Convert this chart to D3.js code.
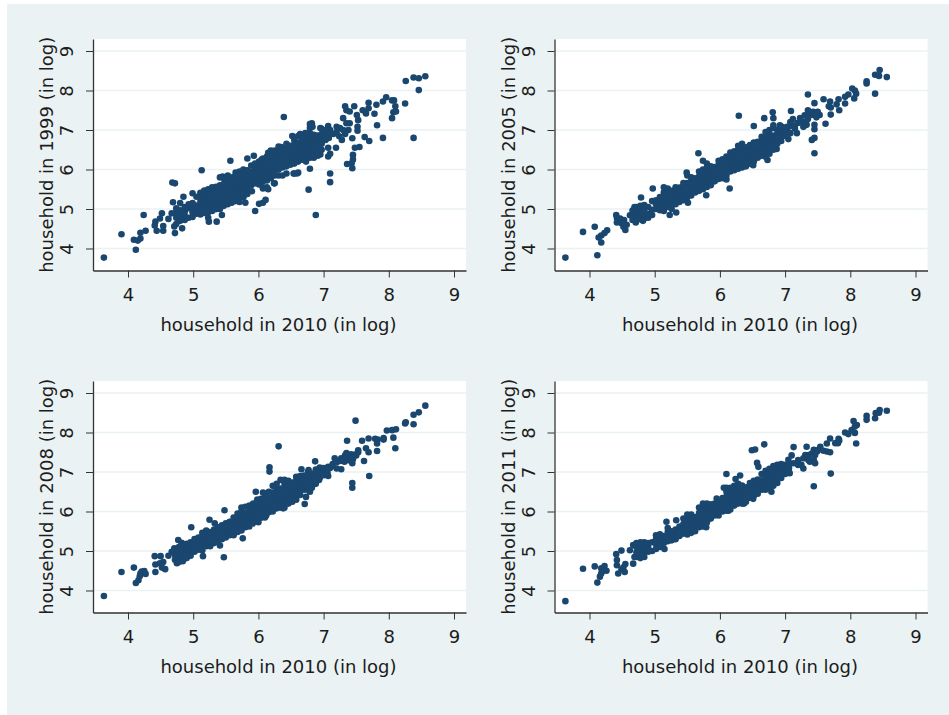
<!DOCTYPE html>
<html>
<head>
<meta charset="utf-8">
<script src="https://cdn.jsdelivr.net/npm/d3@7"></script>
<style>
	html, body { margin: 0; padding: 0; background: #fff; }
	svg { display: block; }
	text { font-family: "DejaVu Sans", sans-serif; fill: #1c1c1c; }
</style>
</head>
<body>
<div id="chart"></div>
<script>
// values: [x, [y, y, ...]] for the dense band, [x, y] for stray points
var xTicks = [4, 5, 6, 7, 8, 9];
var yTicks = [4, 5, 6, 7, 8, 9];
var xLabel = "household in 2010 (in log)";
var years = [1999, 2005, 2008, 2011];

var band1999 = [
	[4.74,[4.62,4.78,4.92,5.02]],[4.80,[4.70,4.84,4.97]],[4.87,[4.72,4.82,4.93,5.05]],
	[4.93,[4.78,5.02,5.12]],[4.99,[4.80,4.92,5.03,5.15,5.40]],[5.05,[4.88,4.98,5.09,5.31]],
	[5.11,[4.86,4.96,5.07,5.18,5.29,5.41]],[5.17,[4.90,5.02,5.13,5.24,5.36,5.47]],[5.23,[4.78,4.92,5.05,5.16,5.27,5.38,5.5]],
	[5.29,[4.95,5.08,5.19,5.3,5.41,5.55]],[5.35,[5.0,5.12,5.23,5.34,5.45,5.56]],[5.41,[5.0,5.12,5.24,5.36,5.47,5.6,5.8]],
	[5.47,[5.08,5.18,5.29,5.41,5.52,5.64,5.78]],[5.53,[5.12,5.24,5.35,5.46,5.58,5.7,5.85]],[5.59,[5.16,5.28,5.39,5.5,5.62,5.74]],
	[5.65,[5.2,5.3,5.42,5.54,5.66,5.78,5.92]],[5.71,[5.18,5.32,5.44,5.56,5.68,5.8,5.95]],[5.77,[5.3,5.42,5.55,5.67,5.79,5.9,6.0]],
	[5.83,[5.38,5.5,5.62,5.74,5.86,5.98]],[5.89,[5.6,5.72,5.83,5.95,6.1]],[5.95,[5.65,5.75,5.87,5.98,6.08,6.15]],
	[6.01,[5.62,5.74,5.86,5.97,6.09,6.2]],[6.07,[5.55,5.7,5.82,5.94,6.06,6.18,6.28]],[6.13,[5.55,5.72,5.85,5.97,6.09,6.21,6.33]],
	[6.19,[5.78,5.9,6.02,6.14,6.26,6.38,6.48]],[6.25,[5.65,5.85,5.97,6.09,6.21,6.33,6.45]],[6.31,[5.85,6.0,6.12,6.24,6.36,6.48,6.58]],
	[6.37,[5.85,6.05,6.17,6.29,6.41,6.53]],[6.43,[5.9,6.08,6.2,6.32,6.44,6.56,6.65]],[6.49,[6.12,6.24,6.36,6.48,6.6]],
	[6.55,[5.9,6.15,6.27,6.39,6.51,6.63,6.75]],[6.61,[5.92,6.2,6.32,6.44,6.56,6.68,6.85]],[6.67,[6.25,6.37,6.49,6.61,6.73,6.88]],
	[6.73,[6.2,6.32,6.44,6.56,6.68,6.8,6.9]],[6.79,[6.02,6.3,6.42,6.54,6.66,6.78,6.92,7.05,7.15]],[6.85,[6.4,6.52,6.64,6.76,6.88]],
	[6.91,[6.35,6.5,6.62,6.74,6.86]],[6.97,[6.5,6.65,6.78,6.9,7.03]],[7.03,[6.75,6.85,6.97,7.0]]
];
var stray1999 = [
	[3.63,3.77],[3.90,4.36],[4.09,4.22],[4.12,3.97],[4.15,4.20],[4.19,4.25],[4.19,4.40],[4.27,4.45],[4.24,4.85],[4.42,4.68],
	[4.41,4.58],[4.44,4.45],[4.54,4.45],[4.54,4.57],[4.52,4.89],[4.49,4.76],[4.62,4.75],[4.68,5.67],[4.72,5.65],[4.69,5.17],
	[4.67,4.89],[4.72,4.39],[4.71,4.56],[4.83,4.51],[4.80,5.15],[4.85,5.31],[5.13,5.98],[5.95,4.95],[6.01,5.13],[6.07,5.16],
	[6.11,5.23],[5.80,5.16],[5.36,4.68],[5.44,4.85],[5.24,4.68],[5.57,6.22],[5.83,6.28],[5.93,6.35],[6.39,7.33],[6.77,5.49],
	[6.88,4.85],[7.10,5.68],[7.10,5.90],[7.07,6.33],[7.10,6.4],[7.07,6.55],[7.08,6.8],[7.07,7.1],[7.2,7.08],[7.19,6.55],
	[7.28,6.75],[7.24,6.84],[7.33,6.9],[7.38,7.0],[7.3,7.3],[7.35,7.17],[7.4,7.17],[7.33,7.6],[7.47,7.6],[7.35,7.5],
	[7.4,7.47],[7.51,7.38],[7.53,7.25],[7.52,7.08],[7.52,6.98],[7.44,6.79],[7.48,6.55],[7.55,6.57],[7.45,6.37],[7.45,6.25],
	[7.36,6.14],[7.44,6.03],[7.43,6.16],[7.6,7.5],[7.65,7.42],[7.69,7.55],[7.69,7.69],[7.63,6.82],[7.7,6.72],[7.78,7.41],
	[7.82,7.12],[7.81,7.64],[7.91,6.8],[7.91,7.72],[7.96,7.83],[8.05,7.75],[8.08,7.75],[8.05,7.3],[8.07,7.45],[8.1,7.6],
	[8.11,7.47],[8.25,7.67],[8.26,8.24],[8.38,8.33],[8.46,8.31],[8.56,8.36],[8.46,8.01],[8.38,6.8],[6.95,7.05],[6.82,7.17],
	[6.83,7.08],[6.52,6.85],[6.64,6.9],[6.72,6.92],[6.54,5.9],[6.59,5.9],[6.24,5.65],[6.15,5.5],[6.07,5.52],
	[7.05,6.9],[7.1,6.95],[7.1,7.0],[7.15,6.9],[7.2,6.95],[7.25,7.05],[7.3,7.0],[6.95,6.38],[6.85,6.3],[6.75,6.3],
	[5.45,5.82],[5.6,5.8],[6.05,6.25],[6.15,6.42],[6.25,6.48],[6.35,6.57],[5.9,5.45],[5.35,5.0]
];

var band2005 = [
	[4.66,[4.72,4.84,4.96]],[4.72,[4.72,4.82,4.93,5.05]],[4.78,[4.74,4.85,4.96,5.08]],[4.84,[4.76,4.88,4.99,5.1]],
	[4.90,[4.78,4.88,5.05]],[4.96,[4.85,4.98,5.2]],[5.02,[5.0,5.12,5.22]],[5.08,[4.97,5.08,5.18,5.3]],
	[5.14,[4.95,5.06,5.18,5.3,5.42]],[5.20,[5.05,5.16,5.28,5.42,5.52]],[5.26,[5.0,5.12,5.24,5.36,5.46]],[5.32,[5.12,5.24,5.36,5.48,5.55]],
	[5.38,[5.18,5.3,5.42,5.54]],[5.44,[5.22,5.34,5.46,5.58,5.66]],[5.50,[5.3,5.42,5.54,5.66,5.85]],[5.56,[5.34,5.46,5.58,5.7,5.8]],
	[5.62,[5.42,5.54,5.66,5.78]],[5.68,[5.46,5.58,5.7,5.82,5.95]],[5.74,[5.5,5.62,5.74,5.86,6.0]],[5.80,[5.56,5.68,5.8,5.92,6.04,6.15]],
	[5.86,[5.6,5.72,5.84,5.96,6.08]],[5.92,[5.7,5.82,5.94,6.06]],[5.98,[5.76,5.88,6.0,6.12,6.22]],[6.04,[5.78,5.9,6.02,6.14,6.26]],
	[6.10,[5.75,5.85,5.97,6.09,6.21,6.33]],[6.16,[5.95,6.07,6.19,6.31,6.43]],[6.22,[5.98,6.1,6.22,6.34,6.46]],[6.28,[6.02,6.14,6.26,6.38,6.5,6.6]],
	[6.34,[6.05,6.17,6.29,6.41,6.55,6.65]],[6.40,[6.08,6.2,6.32,6.44,6.56]],[6.46,[6.15,6.27,6.39,6.51,6.62]],[6.52,[6.2,6.32,6.44,6.56,6.68]],
	[6.58,[6.3,6.42,6.54,6.7]],[6.64,[6.35,6.47,6.59,6.71,6.83]],[6.70,[6.32,6.44,6.56,6.68,6.8,6.95]],[6.76,[6.4,6.52,6.64,6.76,6.88,7.0]],
	[6.82,[6.5,6.62,6.74,6.86,7.05,7.12]],[6.88,[6.65,6.77,6.89,7.0]],[6.94,[6.72,6.84,6.96,7.08]],[7.00,[6.85,6.97,7.05]]
];
var stray2005 = [
	[3.63,3.77],[3.90,4.42],[4.08,4.55],[4.12,3.83],[4.14,4.28],[4.18,4.15],[4.18,4.33],[4.23,4.39],[4.27,4.46],[4.41,4.85],
	[4.42,4.77],[4.42,4.66],[4.47,4.76],[4.49,4.64],[4.52,4.55],[4.55,4.47],[4.57,4.6],[4.53,4.72],[4.62,4.84],[4.67,4.97],
	[4.69,5.05],[4.71,4.66],[4.79,5.29],[4.82,4.7],[4.97,5.52],[5.67,6.41],[5.74,6.22],[5.49,5.92],[5.14,5.55],[5.23,4.85],
	[5.33,4.91],[5.51,5.16],[5.79,5.35],[6.15,5.52],[6.29,7.36],[6.52,7.1],[6.68,7.3],[6.81,7.45],[6.82,7.3],[7.09,7.48],
	[7.35,7.9],[7.45,7.68],[6.51,6.11],[6.73,6.24],[7.45,6.41],[7.41,6.75],[7.45,6.8],[7.45,7.02],[7.45,7.13],[7.62,7.16],
	[7.05,6.77],[7.18,6.92],[6.87,6.52],[7.7,7.39],[7.59,7.78],[7.69,7.72],[7.67,7.6],[7.7,7.57],[7.82,7.78],[7.79,7.65],
	[7.83,7.5],[7.92,7.67],[7.92,7.84],[7.97,7.9],[8.03,8.05],[8.07,8.0],[8.09,7.92],[8.06,7.8],[8.25,8.23],[8.25,8.18],
	[8.38,8.4],[8.38,7.92],[8.45,8.52],[8.44,8.37],[8.56,8.34],[7.08,7.2],[7.12,7.28],[7.23,7.3],[7.3,7.37],[7.35,7.5],
	[7.35,7.28],[7.28,7.08],[7.2,7.18],[7.43,7.46],[7.5,7.46],[7.53,7.38],[7.48,7.32],[7.33,7.13],[7.15,7.04],[7.03,7.0],
	[7.08,6.92],[6.95,7.08],[6.92,7.12],[7.03,7.08],[7.1,7.1],[7.15,7.12],[7.25,7.22],[7.32,7.2],[7.4,7.38],[7.38,7.42],
	[7.47,7.42],[7.46,7.38]
];

var band2008 = [
	[4.72,[4.78,4.9,5.0]],[4.78,[4.72,4.84,4.96,5.1]],[4.84,[4.74,4.86,4.98,5.1,5.18]],[4.90,[4.82,4.94,5.06,5.18]],
	[4.96,[4.88,5.0,5.12,5.22]],[5.02,[4.98,5.1,5.2,5.3]],[5.08,[5.03,5.15,5.27,5.34]],[5.14,[5.02,5.14,5.26,5.38,5.46]],
	[5.20,[5.12,5.24,5.36,5.48,5.52]],[5.26,[5.12,5.24,5.36,5.48]],[5.32,[5.2,5.32,5.44,5.54]],[5.38,[5.25,5.37,5.49,5.6]],
	[5.44,[5.3,5.42,5.54,5.65]],[5.50,[5.34,5.46,5.58,5.7]],[5.56,[5.4,5.52,5.64,5.74]],[5.62,[5.4,5.5,5.62,5.74,5.85]],
	[5.68,[5.48,5.6,5.72,5.84,5.95]],[5.74,[5.52,5.64,5.76,5.88,6.0,6.1]],[5.80,[5.6,5.72,5.84,5.96,6.12]],[5.86,[5.62,5.74,5.86,5.98,6.1,6.15]],
	[5.92,[5.7,5.82,5.94,6.06,6.2]],[5.98,[5.8,5.92,6.04,6.16,6.3]],[6.04,[5.84,5.96,6.08,6.2,6.32]],[6.10,[5.85,5.97,6.09,6.21,6.33,6.45]],
	[6.16,[5.98,6.1,6.22,6.34,6.5]],[6.22,[6.0,6.12,6.24,6.36,6.48,6.65]],[6.28,[6.08,6.2,6.32,6.44,6.56,6.7]],[6.34,[6.1,6.22,6.34,6.46,6.58,6.8]],
	[6.40,[6.1,6.22,6.34,6.46,6.58,6.7,6.8]],[6.46,[6.2,6.32,6.44,6.56,6.68,6.78]],[6.52,[6.25,6.37,6.49,6.61,6.73]],[6.58,[6.3,6.42,6.54,6.66,6.78,6.88]],
	[6.64,[6.42,6.54,6.66,6.78,6.9]],[6.70,[6.55,6.67,6.79,6.91]],[6.76,[6.55,6.67,6.79,6.9,7.0]],[6.82,[6.6,6.72,6.84,6.96]],
	[6.88,[6.7,6.82,6.94,7.06]],[6.94,[6.85,6.97,7.08]],[7.00,[6.92,7.02,7.1]],[7.06,[6.98,7.08]]
];
var stray2008 = [
	[3.63,3.86],[3.90,4.47],[4.09,4.58],[4.12,4.19],[4.16,4.26],[4.19,4.43],[4.21,4.48],[4.25,4.49],[4.27,4.42],[4.18,4.36],
	[4.41,4.87],[4.5,4.87],[4.42,4.66],[4.42,4.47],[4.49,4.69],[4.54,4.72],[4.57,4.54],[4.52,4.58],[4.62,4.88],[4.67,4.98],
	[4.71,5.07],[4.75,4.69],[4.82,4.77],[4.77,5.28],[4.82,5.21],[4.97,5.6],[5.15,4.87],[5.41,5.14],[5.47,4.84],[5.76,5.32],
	[5.25,5.79],[5.33,5.7],[5.48,6.03],[5.96,6.5],[6.07,6.48],[6.17,7.12],[6.17,7.01],[6.31,7.65],[6.0,5.73],[6.12,5.9],
	[6.38,6.08],[6.71,6.19],[6.73,6.37],[6.79,6.5],[6.87,7.27],[7.49,8.3],[7.36,7.79],[7.59,7.79],[7.69,7.85],[7.79,7.84],
	[7.83,7.82],[7.82,7.72],[7.92,7.82],[7.92,7.86],[7.97,8.05],[8.05,8.06],[8.11,8.08],[8.07,7.87],[8.1,7.6],[7.82,7.53],
	[7.69,7.5],[7.65,7.6],[7.62,7.28],[7.7,6.9],[7.44,6.72],[7.44,6.6],[7.44,7.22],[8.25,8.23],[8.26,8.26],[8.38,8.21],
	[8.38,8.45],[8.46,8.51],[8.56,8.68],[7.53,7.55],[7.53,7.5],[7.48,7.44],[7.4,7.4],[7.35,7.48],[7.27,7.35],[7.17,7.35],
	[7.32,7.26],[7.2,7.09],[7.27,7.07],[7.07,6.9],[7.14,7.2],[7.07,7.13],[6.94,7.11],[6.93,6.8],[6.66,7.07],[6.77,7.05],
	[7.1,7.1],[7.13,7.15],[7.2,7.25],[7.25,7.28],[7.3,7.3],[7.35,7.35],[7.38,7.3],[7.43,7.38],[7.45,7.32],[7.5,7.42],
	[7.33,7.42],[7.42,7.45],[7.46,7.4]
];

var band2011 = [
	[4.72,[4.85,4.97,5.1,5.2]],[4.78,[4.82,4.92,5.04,5.15,5.22]],[4.84,[4.85,4.97,5.09,5.22]],[4.90,[4.98,5.1,5.2]],
	[4.96,[5.0,5.22]],[5.02,[5.05,5.17,5.3,5.4]],[5.08,[5.1,5.22,5.32,5.42]],[5.14,[5.2,5.3,5.38]],
	[5.20,[5.25,5.36,5.48,5.58]],[5.26,[5.27,5.39,5.5]],[5.32,[5.3,5.42,5.54]],[5.38,[5.38,5.5,5.62]],
	[5.44,[5.44,5.56,5.68,5.82]],[5.50,[5.42,5.54,5.66,5.78,5.92]],[5.56,[5.46,5.58,5.7,5.82,5.92]],[5.62,[5.5,5.62,5.74,5.86]],
	[5.68,[5.6,5.72,5.84,5.96,6.1]],[5.74,[5.62,5.74,5.86,5.98,6.12,6.2]],[5.80,[5.72,5.84,5.96,6.08,6.2]],[5.86,[5.82,5.94,6.06,6.18]],
	[5.92,[5.9,6.0,6.12,6.2]],[5.98,[5.9,6.0,6.12,6.24]],[6.04,[6.0,6.1,6.22,6.34]],[6.10,[6.02,6.14,6.26,6.38,6.5,6.6]],
	[6.16,[6.05,6.17,6.29,6.41,6.53,6.6]],[6.22,[6.15,6.27,6.39,6.51,6.65]],[6.28,[6.2,6.32,6.44,6.56,6.7]],[6.34,[6.2,6.32,6.44,6.56,6.66]],
	[6.40,[6.25,6.37,6.49,6.61]],[6.46,[6.35,6.47,6.59,6.72]],[6.52,[6.4,6.52,6.64,6.78]],[6.58,[6.45,6.57,6.69,6.81]],
	[6.64,[6.55,6.67,6.79,6.95]],[6.70,[6.55,6.67,6.79,6.91,7.03]],[6.76,[6.6,6.72,6.84,6.96,7.08]],[6.82,[6.65,6.77,6.89,7.01,7.15]],
	[6.88,[6.72,6.84,6.96,7.08,7.18]],[6.94,[6.85,6.97,7.09,7.2]],[7.00,[6.95,7.07,7.18]],[7.06,[7.0,7.1,7.2]]
];
var stray2011 = [
	[3.63,3.73],[3.90,4.55],[4.08,4.61],[4.12,4.2],[4.16,4.35],[4.18,4.43],[4.18,4.56],[4.23,4.62],[4.26,4.5],[4.21,4.5],
	[4.41,4.92],[4.42,4.77],[4.42,4.64],[4.44,4.43],[4.49,5.01],[4.49,4.53],[4.54,4.47],[4.55,4.67],[4.52,4.59],[4.67,4.68],
	[4.62,5.02],[4.67,5.15],[4.69,4.85],[5.18,5.74],[5.15,5.05],[5.33,5.78],[5.79,5.6],[5.95,6.33],[6.1,6.95],[6.31,6.91],
	[6.24,6.82],[6.06,6.6],[6.13,6.02],[6.37,6.2],[6.51,6.32],[6.49,7.55],[6.54,7.57],[6.68,7.7],[6.57,7.23],[6.59,7.13],
	[6.79,6.5],[7.13,7.63],[7.1,7.42],[7.05,7.31],[7.28,7.09],[7.2,7.18],[7.07,6.97],[7.33,7.64],[7.44,6.64],[7.7,6.96],
	[7.46,7.22],[7.38,7.26],[7.54,7.64],[7.49,7.52],[7.44,7.56],[7.36,7.43],[7.28,7.35],[7.64,7.72],[7.69,7.85],[7.64,7.52],
	[7.69,7.5],[7.59,7.54],[7.82,7.84],[7.81,7.73],[7.77,7.73],[7.83,7.8],[7.92,8.0],[7.97,7.96],[8.05,8.29],[8.1,8.19],
	[8.07,8.15],[8.02,8.06],[8.07,7.99],[8.09,7.72],[8.25,8.42],[8.25,8.32],[8.38,8.36],[8.39,8.49],[8.45,8.57],[8.44,8.5],
	[8.56,8.55],[7.13,7.22],[7.2,7.3],[7.25,7.18],[7.31,7.35],[7.36,7.39],[7.41,7.47],[7.46,7.43],[7.44,7.3],[7.36,7.3],
	[7.51,7.56],[7.31,7.43]
];

var bands = [band1999, band2005, band2008, band2011];
var strays = [stray1999, stray2005, stray2008, stray2011];

var W = 949, H = 715;
var plotW = 373, plotH = 231.5;
var panelPos = [[93, 39], [554.5, 39], [93, 381], [554.5, 381]];
var navy = "#1a476f", bg = "#eaf2f3", axisCol = "#333";

var svg = d3.select("#chart").append("svg").attr("width", W).attr("height", H);
svg.append("rect").attr("x", 7).attr("y", 4).attr("width", W - 7).attr("height", H - 4).attr("fill", bg);

var x = d3.scaleLinear().domain([3.463, 9.184]).range([0, plotW]);
var y = d3.scaleLinear().domain([3.443, 9.304]).range([plotH, 0]);

function drawPanel(i) {
	var g = svg.append("g").attr("transform", "translate(" + panelPos[i][0] + "," + panelPos[i][1] + ")");
	g.append("rect").attr("width", plotW).attr("height", plotH).attr("fill", "#fff");

	g.selectAll("line.grid").data(yTicks).enter().append("line")
		.attr("class", "grid")
		.attr("x1", 0).attr("x2", plotW)
		.attr("y1", function(d) { return y(d); })
		.attr("y2", function(d) { return y(d); })
		.attr("stroke", bg).attr("stroke-width", 1.5);

	// expand the band columns into plain x,y points
	var points = strays[i].slice();
	bands[i].forEach(function(col) {
		col[1].forEach(function(v) { points.push([col[0], v]); });
	});
	g.selectAll("circle").data(points).enter().append("circle")
		.attr("cx", function(d) { return x(d[0]); })
		.attr("cy", function(d) { return y(d[1]); })
		.attr("r", 3.3)
		.attr("fill", navy);

	var xAxis = g.append("g").attr("transform", "translate(0," + plotH + ")")
		.call(d3.axisBottom(x).tickValues(xTicks).tickSizeInner(7).tickSizeOuter(0).tickPadding(11).tickFormat(d3.format("d")));
	var yAxis = g.append("g")
		.call(d3.axisLeft(y).tickValues(yTicks).tickSizeInner(7).tickSizeOuter(0).tickPadding(5).tickFormat(d3.format("d")));
	[xAxis, yAxis].forEach(function(a) {
		a.select(".domain").attr("stroke", axisCol).attr("stroke-width", 1.3);
		a.selectAll(".tick line").attr("stroke", axisCol).attr("stroke-width", 1);
		a.selectAll("text").attr("font-size", 18).attr("font-family", "DejaVu Sans").attr("fill", "#1c1c1c");
	});
	// Stata style: y tick labels run upward
	yAxis.selectAll(".tick text")
		.attr("text-anchor", "middle").attr("dy", 0).attr("x", 0).attr("y", 0)
		.attr("transform", "translate(-20,0) rotate(-90)");

	g.append("text")
		.attr("x", 185.5).attr("y", plotH + 60.5)
		.attr("text-anchor", "middle").attr("font-size", 18)
		.text(xLabel);
	g.append("text")
		.attr("transform", "translate(-40," + (plotH / 2) + ") rotate(-90)")
		.attr("text-anchor", "middle").attr("font-size", 18)
		.text("household in " + years[i] + " (in log)");
}

years.forEach(function(yr, i) { drawPanel(i); });
</script>
</body>
</html>
